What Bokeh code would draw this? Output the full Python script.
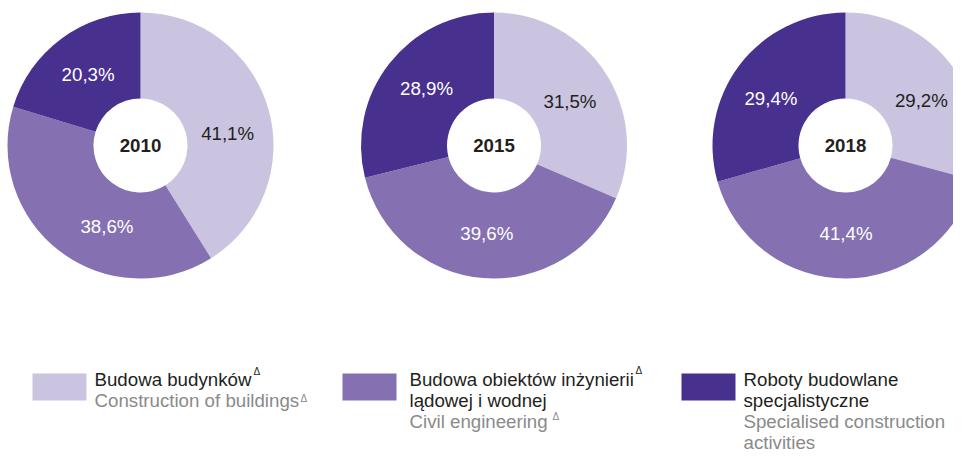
import numpy as np
from bokeh.plotting import figure
from bokeh.models import Range1d, ColumnDataSource
from bokeh.core.properties import value
from bokeh.embed import file_html
from bokeh.resources import INLINE

# ---------------- data ----------------
years = ["2010", "2015", "2018"]
buildings = [41.1, 31.5, 29.2]      # Budowa budynków
civil = [38.6, 39.6, 41.4]          # Budowa obiektów inżynierii lądowej i wodnej
specialised = [20.3, 28.9, 29.4]    # Roboty budowlane specjalistyczne

legend_pl = [["Budowa budynków"],
             ["Budowa obiektów inżynierii", "lądowej i wodnej"],
             ["Roboty budowlane", "specjalistyczne"]]
legend_en = [["Construction of buildings"],
             ["Civil engineering"],
             ["Specialised construction", "activities"]]

# ---------------- style / layout ----------------
colors = ["#CAC4E0", "#8571B1", "#48308F"]
label_colors = ["#231F20", "#FFFFFF", "#FFFFFF"]
FONT = value("Liberation Sans")
FS = "18.7px"
W, H = 953, 455

def Y(sy):                   # screen y (from top) -> data y
    return H - sy

centers_x = [140, 493.5, 845]
center_y = 145
R_OUT, R_IN, R_LAB = 133, 47, 88
# per-chart label angle nudges (degrees), like the original's best-fit placement
nudges = [[-8, 15, 0], [-3, 0, -2], [-7, 0, 5]]

p = figure(width=W, height=H, x_range=Range1d(0, W), y_range=Range1d(0, H),
           output_backend="svg", toolbar_location=None, min_border=0)
p.axis.visible = False
p.grid.visible = False
p.outline_line_color = None
p.background_fill_color = "white"

series = [buildings, civil, specialised]
for i, yr in enumerate(years):
    vals = np.array([s[i] for s in series])
    frac = vals / vals.sum()
    cum_end = np.cumsum(frac) * 2 * np.pi
    cum_start = cum_end - frac * 2 * np.pi
    start = np.pi / 2 - cum_end
    end = np.pi / 2 - cum_start
    mid = (start + end) / 2 + np.radians(nudges[i])
    cx = centers_x[i]
    cy = Y(center_y)
    src = ColumnDataSource(dict(
        x=[cx] * 3, y=[cy] * 3, start=start, end=end, color=colors,
        lx=cx + R_LAB * np.cos(mid), ly=cy + R_LAB * np.sin(mid),
        lab=[f"{v:.1f}%".replace(".", ",") for v in vals], lc=label_colors))
    p.annular_wedge(x="x", y="y", inner_radius=R_IN, outer_radius=R_OUT,
                    inner_radius_units="screen", outer_radius_units="screen",
                    start_angle="start", end_angle="end", direction="anticlock",
                    fill_color="color", line_color=None, source=src)
    p.text(x="lx", y="ly", text="lab", text_color="lc", text_font=FONT,
           text_font_size=FS, text_align="center", text_baseline="middle", source=src)
    p.text(x=[cx], y=[cy], text=[yr], text_font=FONT, text_font_style="bold",
           text_font_size=FS, text_align="center", text_baseline="middle",
           text_color="#231F20")

# ---------------- legend ----------------
sq_left = [32, 342, 681]
txt_left = [94, 409, 743]
base0, lh = 379, 21
sq_w, sq_top, sq_bot = 54, base0 - 6, base0 + 21
for k in range(3):
    p.quad(left=[sq_left[k]], right=[sq_left[k] + sq_w], top=[Y(sq_top)], bottom=[Y(sq_bot)],
           fill_color=colors[k], line_color=None)
    lines = legend_pl[k] + legend_en[k]
    cols = ["#231F20"] * len(legend_pl[k]) + ["#8A8A8A"] * len(legend_en[k])
    ys = [Y(base0 + j * lh) for j in range(len(lines))]
    p.text(x=[txt_left[k]] * len(lines), y=ys, text=lines, text_color=cols,
           text_font=FONT, text_font_size=FS, text_align="left",
           text_baseline="alphabetic")

# superscript deltas (markers "Δ")
dx = [253, 300, 635, 552]
dy = [base0 - 8, base0 + lh - 2, base0 - 9, base0 + 2 * lh - 5]
dc = ["#231F20", "#8A8A8A", "#231F20", "#8A8A8A"]
p.text(x=dx, y=[Y(v) for v in dy], text=["\u0394"] * 4, text_color=dc, text_font=FONT,
       text_font_size="10px", text_align="left", text_baseline="alphabetic")

open("out.html", "w").write(file_html(p, INLINE))
